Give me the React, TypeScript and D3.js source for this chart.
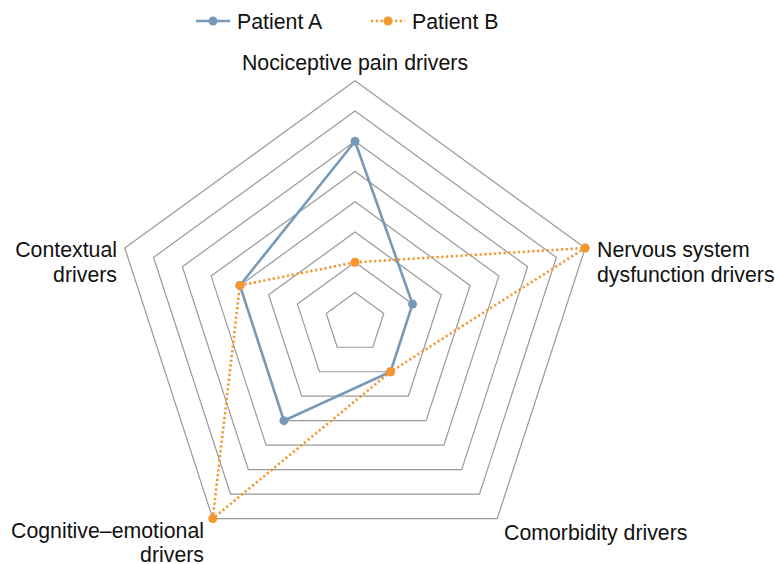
import React from 'react';
import * as d3 from 'd3';

const axes = [
  'Nociceptive pain drivers',
  'Nervous system dysfunction drivers',
  'Comorbidity drivers',
  'Cognitive–emotional drivers',
  'Contextual drivers',
];
const patientA = [6, 2, 2, 4, 4];
const patientB = [2, 8, 2, 8, 4];
const ringLevels = [1, 2, 3, 4, 5, 6, 7, 8];

const W = 775;
const H = 564;
const CX = 355;
const CY = 322.8;
const R = 242;
const FONT = 'Liberation Sans, Arial, sans-serif';
const BLUE = '#7799b8';
const ORANGE = '#f5962f';

const series = [
  { name: 'Patient A', values: patientA, color: BLUE, dash: null as string | null },
  { name: 'Patient B', values: patientB, color: ORANGE, dash: '2.2 2.6' },
];

export default function App() {
  const r = d3.scaleLinear().domain([0, 8]).range([0, R]);
  const angle = (i: number) => (i * 2 * Math.PI) / axes.length;
  const pt = (i: number, v: number): [number, number] => [
    CX + r(v) * Math.sin(angle(i)),
    CY - r(v) * Math.cos(angle(i)),
  ];
  const line = d3.line<[number, number]>().curve(d3.curveLinearClosed);

  const labelStyle = { fontFamily: FONT, fontSize: 21.3, fill: '#111' };

  return (
    <svg width={W} height={H} style={{ display: 'block', position: 'absolute', left: 0, top: 0 }}>
      <rect width={W} height={H} fill="#fff" />
      {/* grid rings */}
      {ringLevels.map(l => (
        <path key={l} d={line(axes.map((_, i) => pt(i, l))) || ''}
          fill="none" stroke="#999" strokeWidth={1.2} />
      ))}
      {/* series */}
      {series.map(s => (
        <g key={s.name}>
          <path d={line(s.values.map((v, i) => pt(i, v))) || ''} fill="none"
            stroke={s.color} strokeWidth={2.6}
            strokeDasharray={s.dash || undefined} />
          {s.values.map((v, i) => {
            const [x, y] = pt(i, v);
            return <circle key={i} cx={x} cy={y} r={4.5} fill={s.color} />;
          })}
        </g>
      ))}
      {/* axis labels */}
      <text x={CX} y={70} textAnchor="middle" {...labelStyle}>{axes[0]}</text>
      <text x={597} y={257} {...labelStyle}>
        <tspan x={597}>Nervous system</tspan>
        <tspan x={597} dy={25}>dysfunction drivers</tspan>
      </text>
      <text x={504} y={540} {...labelStyle}>{axes[2]}</text>
      <text x={204} y={538} textAnchor="end" {...labelStyle}>
        <tspan x={204}>Cognitive–emotional</tspan>
        <tspan x={204} dy={23.5}>drivers</tspan>
      </text>
      <text x={117} y={257} textAnchor="end" {...labelStyle}>
        <tspan x={117}>Contextual</tspan>
        <tspan x={117} dy={24.5}>drivers</tspan>
      </text>
      {/* legend */}
      {series.map((s, k) => {
        const x0 = 196 + k * 175;
        return (
          <g key={s.name} transform={`translate(${x0},21)`}>
            <line x1={0} x2={34} y1={0} y2={0} stroke={s.color} strokeWidth={2.6}
              strokeDasharray={s.dash || undefined} />
            <circle cx={17} cy={0} r={4.5} fill={s.color} />
            <text x={41} y={7.5} {...labelStyle}>{s.name}</text>
          </g>
        );
      })}
    </svg>
  );
}
